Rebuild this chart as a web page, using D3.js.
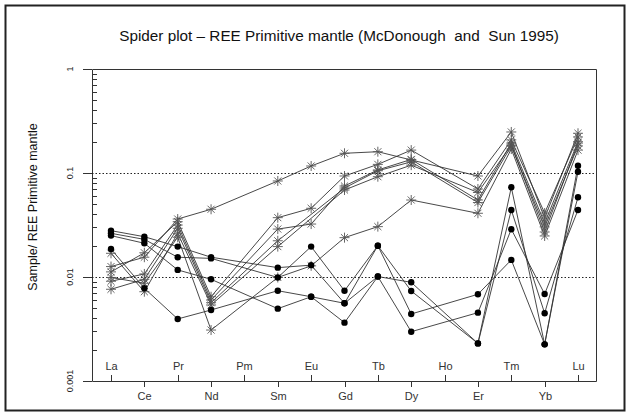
<!DOCTYPE html>
<html>
<head>
<meta charset="utf-8">
<script src="https://cdn.jsdelivr.net/npm/d3@7/dist/d3.min.js"></script>
<style>
  html, body { margin: 0; padding: 0; background: #fff; }
  svg { display: block; font-family: "Liberation Sans", Arial, sans-serif; }
  .title { white-space: pre; }
</style>
</head>
<body>
<svg id="chart" width="630" height="416"></svg>
<script>
// Rare earth elements in order along the x axis
const elements = ["La","Ce","Pr","Nd","Pm","Sm","Eu","Gd","Tb","Dy","Ho","Er","Tm","Yb","Lu"];

// Primitive-mantle normalised values (null = not analysed)
// Samples plotted with filled circles
const circleA = [0.0279, 0.0244, 0.0196, 0.0155, null, 0.0123, 0.0130, 0.00559, 0.0200, 0.00733, null, 0.00230, 0.0729, 0.00225, 0.1175];
const circleB = [0.0263, 0.0230, 0.0155, 0.0151, null, 0.0099, 0.0196, 0.00738, 0.0200, 0.00441, null, 0.00682, 0.0146, 0.00225, 0.1029];
const circleC = [0.0250, 0.0211, 0.0117, 0.0095, null, 0.00496, 0.00646, 0.00559, 0.0101, 0.00889, null, 0.00230, 0.0441, 0.00448, 0.0584];
const circleD = [0.0186, 0.00779, 0.00395, 0.00482, null, 0.00738, 0.00646, 0.00364, 0.0101, 0.00298, null, 0.00454, 0.0288, 0.00686, 0.0441];

// Samples plotted with asterisks
const starA = [0.0126, 0.0155, 0.0361, 0.0448, null, 0.0838, 0.1168, 0.1547, 0.1602, 0.1334, null, 0.0936, 0.248, 0.0369, 0.241];
const starB = [0.0112, 0.0171, 0.0340, 0.00646, null, 0.0372, 0.0458, 0.0936, 0.121, 0.166, null, 0.0702, 0.208, 0.0412, 0.222];
const starC = [0.0091, 0.0107, 0.0316, 0.00601, null, 0.0289, 0.0323, 0.0750, 0.107, 0.135, null, 0.0550, 0.194, 0.0330, 0.200];
const starD = [0.00762, 0.0095, 0.0294, 0.00566, null, 0.0223, null, 0.0717, 0.105, 0.128, null, 0.0520, 0.182, 0.0303, 0.182];
const starE = [0.0169, 0.00722, 0.0263, 0.00538, null, 0.0196, null, 0.0686, 0.0921, 0.119, null, 0.0650, 0.186, 0.0271, 0.194];
const starF = [0.0099, 0.0087, 0.0241, 0.00309, null, 0.0099, 0.0128, 0.0239, 0.0305, 0.0550, null, 0.0410, 0.170, 0.0248, 0.166];

const circleSeries = [circleA, circleB, circleC, circleD];
const starSeries = [starA, starB, starC, starD, starE, starF];

// Axis labels
const yTickValues = [1, 0.1, 0.01, 0.001];
const yTickLabels = ["1", "0.1", "0.01", "0.001"];
const gridValues = [0.1, 0.01];
const titleText = "Spider plot \u2013 REE Primitive mantle (McDonough  and  Sun 1995)";
const yTitleText = "Sample/ REE Primitive mantle";

const svg = d3.select("#chart");
const W = 630, H = 416;
const plotL = 92, plotR = 596, plotT = 69, plotB = 381;

const x = d3.scalePoint().domain(elements).range([111, 578]);
const y = d3.scaleLog().domain([0.001, 1]).range([plotB, plotT]);

const ink = "#333";

// outer frame
svg.append("rect").attr("x", 5.5).attr("y", 5.5).attr("width", W - 11).attr("height", H - 11)
  .attr("fill", "none").attr("stroke", "#222").attr("stroke-width", 2);

// title
svg.append("text").attr("class", "title").attr("x", 339).attr("y", 41).attr("text-anchor", "middle")
  .attr("font-size", 15.3).attr("fill", "#111").text(titleText);

// plot box and left axis
svg.append("path")
  .attr("d", `M${plotL + 0.5},${plotT + 0.5}H${plotR + 0.5}V${plotB + 0.5}H${plotL + 0.5}Z`)
  .attr("fill", "none").attr("stroke", ink).attr("stroke-width", 1);

// dotted reference lines
svg.selectAll("line.grid").data(gridValues).join("line").attr("class", "grid")
  .attr("x1", plotL).attr("x2", plotR)
  .attr("y1", d => Math.round(y(d)) + 0.5).attr("y2", d => Math.round(y(d)) + 0.5)
  .attr("stroke", "#222").attr("stroke-width", 1).attr("stroke-dasharray", "1.5,2");

// y axis: major ticks outward, minor ticks inward
const yAxis = svg.append("g");
yAxis.selectAll("line.major").data(yTickValues).join("line").attr("class", "major")
  .attr("x1", plotL - 9).attr("x2", plotL)
  .attr("y1", d => Math.round(y(d)) + 0.5).attr("y2", d => Math.round(y(d)) + 0.5)
  .attr("stroke", ink);
const minor = [];
[0.001, 0.01, 0.1].forEach(dec => { for (let m = 2; m <= 9; m++) minor.push(dec * m); });
yAxis.selectAll("line.minor").data(minor).join("line").attr("class", "minor")
  .attr("x1", plotL).attr("x2", plotL + 5)
  .attr("y1", d => Math.round(y(d)) + 0.5).attr("y2", d => Math.round(y(d)) + 0.5)
  .attr("stroke", ink);
yAxis.selectAll("text").data(yTickValues).join("text")
  .attr("transform", d => `translate(73,${y(d)}) rotate(-90)`)
  .attr("text-anchor", "middle").attr("font-size", 9).attr("fill", "#222")
  .text((d, i) => yTickLabels[i]);

// y title
svg.append("text").attr("transform", `translate(37,207) rotate(-90)`)
  .attr("text-anchor", "middle").attr("font-size", 12.5).attr("fill", "#111")
  .text(yTitleText);

// x axis: alternate labels inside / outside
const xAxis = svg.append("g");
elements.forEach((el, i) => {
  const px = Math.round(x(el)) + 0.5;
  const inside = i % 2 === 0;
  xAxis.append("line").attr("x1", px).attr("x2", px)
    .attr("y1", plotB).attr("y2", inside ? plotB - 6 : plotB + 6)
    .attr("stroke", ink);
  xAxis.append("text").attr("x", px).attr("y", inside ? 370 : 400)
    .attr("text-anchor", "middle").attr("font-size", 11).attr("fill", "#333")
    .text(el);
});

// series lines (connect across missing elements)
const line = d3.line().x(d => x(d.el)).y(d => y(d.v));
function pts(s) {
  return elements.map((el, i) => ({ el, v: s[i] })).filter(d => d.v != null);
}
const allSeries = starSeries.concat(circleSeries);
svg.append("g").selectAll("path").data(allSeries).join("path")
  .attr("d", s => line(pts(s)))
  .attr("fill", "none").attr("stroke", "#333").attr("stroke-width", 0.9);

// asterisk markers
const starG = svg.append("g");
starSeries.forEach(s => {
  pts(s).forEach(d => {
    const cx = x(d.el), cy = y(d.v), r = 5;
    const g = starG.append("g").attr("transform", `translate(${cx},${cy})`)
      .attr("stroke", "#555").attr("stroke-width", 0.9);
    [0, 45, 90, 135].forEach(a => {
      const rad = a * Math.PI / 180;
      g.append("line")
        .attr("x1", -r * Math.cos(rad)).attr("y1", -r * Math.sin(rad))
        .attr("x2", r * Math.cos(rad)).attr("y2", r * Math.sin(rad));
    });
  });
});

// filled circle markers
const circG = svg.append("g");
circleSeries.forEach(s => {
  circG.selectAll(null).data(pts(s)).join("circle")
    .attr("cx", d => x(d.el)).attr("cy", d => y(d.v)).attr("r", 3.2)
    .attr("fill", "#000");
});
</script>
</body>
</html>
